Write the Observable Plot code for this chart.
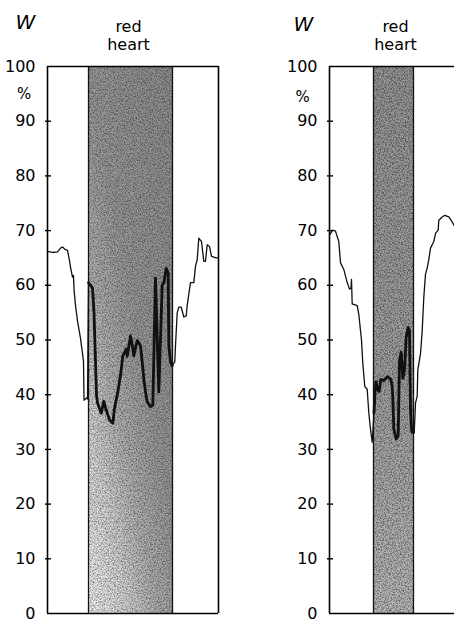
<!DOCTYPE html>
<html><head><meta charset="utf-8">
<script src="https://cdn.jsdelivr.net/npm/d3@7"></script>
<script src="https://cdn.jsdelivr.net/npm/@observablehq/plot@0.6"></script>
<style>
body{margin:0;background:#fff;}
#wrap{display:flex;width:454px;height:623px;overflow:hidden;}
#wrap svg{flex:none;display:block;}
</style></head><body>
<svg width="0" height="0" style="position:absolute">
<defs>
<linearGradient id="gradL" x1="0.9" y1="0" x2="0.1" y2="1">
 <stop offset="0" stop-color="#8f8f8f"/>
 <stop offset="0.45" stop-color="#9a9a9a"/>
 <stop offset="0.65" stop-color="#b2b2b2"/>
 <stop offset="0.82" stop-color="#d6d6d6"/>
 <stop offset="1" stop-color="#efefef"/>
</linearGradient>
<linearGradient id="gradR" x1="0" y1="0" x2="0" y2="1">
 <stop offset="0" stop-color="#979797"/>
 <stop offset="0.6" stop-color="#a3a3a3"/>
 <stop offset="1" stop-color="#bcbcbc"/>
</linearGradient>
<filter id="speckle" x="0" y="0" width="1" height="1">
 <feTurbulence type="fractalNoise" baseFrequency="0.75" numOctaves="2" seed="7" result="n"/>
 <feColorMatrix in="n" type="matrix" values="0 0 0 0 0  0 0 0 0 0  0 0 0 0 0  2.6 0 0 0 -1.0"/>
 <feComposite in2="SourceGraphic" operator="in"/>
</filter>
<pattern id="spk" patternUnits="userSpaceOnUse" width="240" height="640">
 <rect width="240" height="640" fill="black" filter="url(#speckle)"/>
</pattern>
</defs></svg>
<div id="wrap"></div>
<script>
// ---- data ----
const yTicks = [0, 10, 20, 30, 40, 50, 60, 70, 80, 90, 100];
const leftBand = [41, 125];   // red heart zone, position units
const rightBand = [44, 84];
const leftPos = [0,5,10,13,15,18,20,22,23,25,26,26.5,28,30,33,35,36,36.5,39,40,41,45,46.5,49,50,53.7,56.3,58.7,62,65.3,67,70.3,73,75.3,78.7,79.7,83,84.7,86.3,89.7,93,94.7,96.3,98,99.7,103,105.3,108,111.3,114.7,116.3,118.7,120.7,121.3,123,124.7,127.3,128,129.7,131.3,133.7,136.3,138.7,139.7,141.3,143,146.3,148,149.7,151.3,154,156.3,158,159.7,162,164,168.7,171];
const leftW = [66.2,66.0,66.1,66.8,67.0,66.5,66.4,64.5,63.3,61.5,61.8,59.3,56.3,53.5,50.3,47.5,46.1,39.0,39.4,39.2,60.5,59.5,55,40,38.5,36.6,38.8,37.2,35.4,34.8,37.5,40.5,43.5,47.1,48.3,47,50.7,49.2,47.1,49.9,49,46,43,40.5,38.7,37.8,38.1,61.3,40.5,60.1,60.4,63.1,62.2,49,46,45.3,46,49,55,56,56,54.2,54.4,56.3,58.4,60.5,60.5,63.5,64.7,68.6,68,64.4,64.4,67.4,67.1,65.3,65,65];
const rightPos = [0,3.3,6,9.3,11,14.3,17.7,20,21.5,22,22.7,27.7,29.3,32,33.3,35.3,37.7,39.3,41,42.7,44.5,45.5,46.5,48,49.7,51.3,54.3,58,61.3,62.7,63.5,64.3,66.7,68.7,70,71.7,73.3,75,76.7,78.7,80,81,82,82.7,84.7,86,87.7,88.3,91,92.7,94.3,96,97.7,99.3,101,104.3,106,108.7,109.3,112.7,115.3,119.3,122.7,125];
const rightW = [69.2,70.1,69.9,68,64.1,62.9,60.5,59.3,59.5,61.1,56.6,56.3,54.7,50,45.7,41.5,41,36.7,33.7,31.3,36.7,40.3,42.4,41,40.6,42.8,42.6,43.3,42.8,41.5,38.5,33.7,31.9,32.5,46.3,47.8,43,44.5,50.5,52.3,51.7,37.3,33.7,33.1,33,38.5,39.7,44.5,47.5,51.7,57.8,62,63.2,64.7,66.8,68,69.5,70.1,71.9,72.5,72.8,72.5,71.6,70.8];
const yLabel = "W";
const unitLabel = "%";
const zoneLabel = "red\nheart";

function panel({pos, w, band, grad, spkOp, width, mLeft, mRight, mBottom, xMax, full, wDx, wDy, pctX, pctY, zoneX}) {
  const pts = pos.map((p, i) => ({p, w: w[i]}));
  const inner = pts.filter(d => d.p >= band[0] - 0.5 && d.p <= band[1] + 0.5);
  const bands = [{a: band[0], b: band[1]}];
  const marks = [
    Plot.rect(bands, {x1: "a", x2: "b", y1: 0, y2: 100, fill: grad}),
    Plot.rect(bands, {x1: "a", x2: "b", y1: 0, y2: 100, fill: "url(#spk)", fillOpacity: spkOp}),
    Plot.ruleX(band, {y1: 0, y2: 100, stroke: "#111", strokeWidth: 1.3}),
    Plot.line(pts, {x: "p", y: "w", stroke: "#111", strokeWidth: 1.3}),
    Plot.line(inner, {x: "p", y: "w", stroke: "#111", strokeWidth: 2.8}),
    Plot.ruleX([0], {y1: 0, y2: 100, stroke: "#000", strokeWidth: 1.6}),
    Plot.ruleY([0, 100], {x1: 0, x2: xMax, stroke: "#000", strokeWidth: 1.6}),
    Plot.ruleY(yTicks.slice(1, -1), {x1: -2, x2: 4, stroke: "#000", strokeWidth: 1.4}),
    Plot.axisY({ticks: yTicks, tickSize: 0, tickPadding: 12, label: null, fontSize: 16}),
    Plot.text([yLabel], {x: 0, y: 100, dx: wDx, dy: wDy, text: d => d, fontSize: 20, fontStyle: "italic"}),
    Plot.text([unitLabel], {x: pctX, y: pctY, text: d => d, fontSize: 15}),
    Plot.text([zoneLabel], {x: zoneX, y: 100, dy: -31, text: d => d, fontSize: 16, lineHeight: 1.1, lineAnchor: "middle"})
  ];
  if (full) marks.push(Plot.ruleX([xMax], {y1: 0, y2: 100, stroke: "#000", strokeWidth: 1.6}));
  return Plot.plot({
    width, height: 623,
    marginTop: 66, marginBottom: mBottom, marginLeft: mLeft, marginRight: mRight,
    x: {domain: [0, xMax], axis: null},
    y: {domain: [0, 100], axis: null},
    style: {fontFamily: "DejaVu Sans", fontSize: "16px", color: "#000", background: "white", overflow: "visible"},
    marks
  });
}

const wrap = document.getElementById("wrap");
wrap.append(panel({pos: leftPos, w: leftW, band: leftBand, grad: "url(#gradL)", spkOp: 0.45, width: 227,
  mLeft: 47, mRight: 9, mBottom: 10, xMax: 171, full: true, wDx: -22, wDy: -44, pctX: -23.5, pctY: 95, zoneX: 81}));
wrap.append(panel({pos: rightPos, w: rightW, band: rightBand, grad: "url(#gradR)", spkOp: 0.5, width: 227,
  mLeft: 102, mRight: 0, mBottom: 10, xMax: 125, full: false, wDx: -26, wDy: -42, pctX: -27, pctY: 94.4, zoneX: 66}));
</script>
</body></html>
